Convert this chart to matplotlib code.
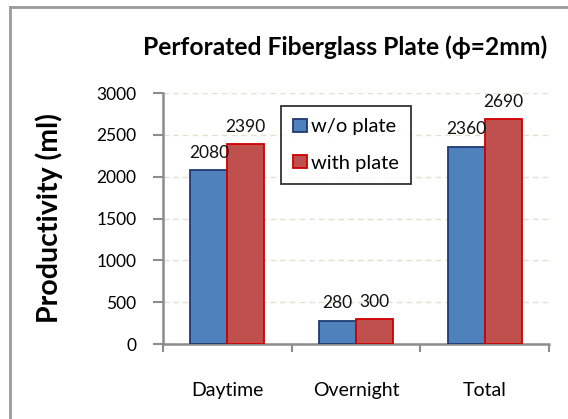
import matplotlib
matplotlib.use('Agg')
import matplotlib.pyplot as plt
from matplotlib.lines import Line2D
import numpy as np

# data
categories = ['Daytime', 'Overnight', 'Total']
without_plate = [2080, 280, 2360]
with_plate = [2390, 300, 2690]
yticks = [0, 500, 1000, 1500, 2000, 2500, 3000]

plt.rcParams['font.family'] = ['Lato', 'DejaVu Sans']

W, H = 568, 419
fig = plt.figure(figsize=(W / 100, H / 100), dpi=100)

# outer chart frame, only left and top edges are visible
fig.add_artist(Line2D([10 / W, 10 / W], [0, 1 - 7 / H], transform=fig.transFigure,
                      color='#9a9a9a', linewidth=2))
fig.add_artist(Line2D([10 / W, 1], [1 - 7 / H, 1 - 7 / H], transform=fig.transFigure,
                      color='#9a9a9a', linewidth=2))

x0, x1, y0, y1 = 163, 549, 344, 93
ax = fig.add_axes([x0 / W, (H - y0) / H, (x1 - x0) / W, (y0 - y1) / H])

x = np.arange(len(categories))
w = 0.287
b1 = ax.bar(x - w / 2, without_plate, w, color='#4F81BD', edgecolor='#1F3A73',
            linewidth=1.3, label='w/o plate', zorder=3)
b2 = ax.bar(x + w / 2, with_plate, w, color='#C0504D', edgecolor='#D00000',
            linewidth=1.3, label='with plate', zorder=3)

for bars, vals in ((b1, without_plate), (b2, with_plate)):
    for r, v in zip(bars, vals):
        ax.text(r.get_x() + r.get_width() / 2, v + 110, str(v), ha='center',
                va='bottom', fontsize=12.5, color='#111111')

ax.set_xlim(-0.5, 2.5)
ax.set_ylim(0, 3000)
ax.set_yticks(yticks)
ax.set_yticklabels([str(t) for t in yticks], fontsize=12.5)
ax.set_xticks(x)
ax.set_xticklabels(categories, fontsize=14)
ax.tick_params(axis='x', length=0, pad=27)
ax.set_xticks([-0.5, 0.5, 1.5, 2.5], minor=True)
ax.tick_params(axis='x', which='minor', length=6, width=1.5, color='#8c8c8c', direction='out')
ax.tick_params(axis='y', length=7, width=1.5, color='#8c8c8c', direction='out', pad=12)

ax.grid(axis='y', linestyle=(0, (4, 3)), color='#E4E0CC', linewidth=1, zorder=0)
for s in ['top', 'right']:
    ax.spines[s].set_visible(False)
for s in ['left', 'bottom']:
    ax.spines[s].set_color('#8c8c8c')
    ax.spines[s].set_linewidth(1.8)

ax.set_ylabel('Productivity (ml)', fontsize=20.5, fontweight='bold')
ax.yaxis.set_label_coords((63 - x0) / (x1 - x0), 0.5)
fig.text(345 / W, 1 - 47 / H, 'Perforated Fiberglass Plate (ϕ=2mm)', ha='center',
         va='center', fontsize=17.7, fontweight='bold')

leg = ax.legend(loc='upper left', bbox_to_anchor=((281 - x0) / (x1 - x0), (y0 - 106) / (y0 - y1)),
                fontsize=14.5, frameon=True, fancybox=False, edgecolor='black',
                handlelength=0.67, handleheight=0.67, handletextpad=0.2,
                labelspacing=0.95, borderpad=0.62, borderaxespad=0)
leg.get_frame().set_linewidth(1.3)

fig.savefig('out.png', dpi=100)
